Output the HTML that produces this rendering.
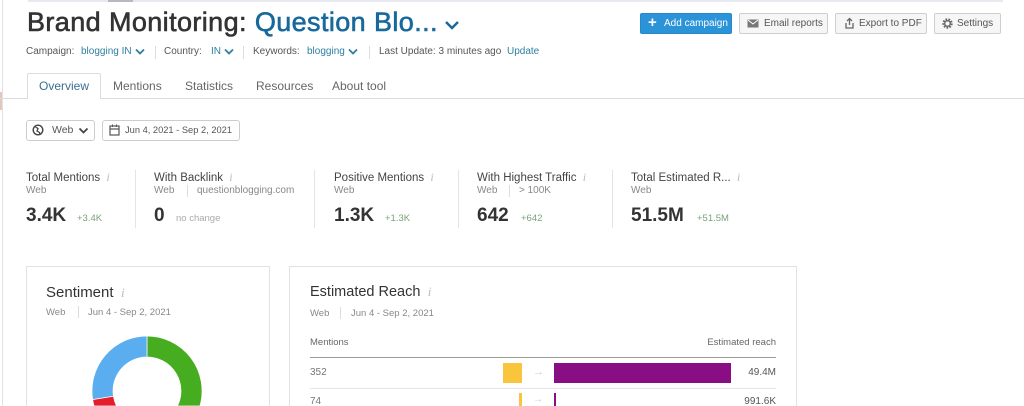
<!DOCTYPE html>
<html><head><meta charset="utf-8">
<style>
*{margin:0;padding:0;box-sizing:border-box}
html,body{width:1024px;height:406px;overflow:hidden;background:#fff;font-family:"Liberation Sans",Arial,sans-serif;color:#333;position:relative}
.a{position:absolute;white-space:nowrap}
.lbl{font-size:10px;color:#555}
.val{font-size:10px;color:#2e7fa0}
.sep{position:absolute;width:1px;background:#ddd}
.btn{position:absolute;top:13px;height:21px;border:1px solid #cfcfcf;border-radius:2px;background:#f6f6f6;font-size:10px;color:#555;line-height:19px}
.tab{position:absolute;top:79px;font-size:12px;color:#666}
.mt{font-size:11.5px;color:#444;position:absolute;top:170px}
.ms{font-size:10px;color:#888;position:absolute;top:185px}
.mv{font-size:19px;font-weight:bold;color:#333;position:absolute;top:205px}
.md{font-size:9.5px;color:#7aa27a;position:absolute;top:213px}
.info{font-family:"Liberation Serif",serif;font-style:italic;color:#bbb;font-size:12px}
.card{position:absolute;top:266px;height:140px;border:1px solid #e2e2e2;border-bottom:none;background:#fff}
</style></head><body>
<!-- top line and left border -->
<div class="a" style="left:28px;top:0;width:975px;height:2px;background:#e8e8f0"></div>
<div class="a" style="left:108px;top:0;width:25px;height:2px;background:#b8b8c2"></div>
<div class="a" style="left:2px;top:0;width:1px;height:406px;background:#e2e2e2"></div>
<div class="a" style="left:0;top:92px;width:2px;height:18px;background:#e0c8bc"></div>

<!-- title -->
<div class="a" style="left:27px;top:7px;font-size:27px;letter-spacing:0.4px;color:#333;-webkit-text-stroke:0.6px #333">Brand Monitoring: <span style="color:#17699c;-webkit-text-stroke:0.6px #17699c">Question Blo...</span></div>
<svg class="a" style="left:444px;top:19px" width="16" height="12"><polyline points="2,3 8,9 14,3" fill="none" stroke="#17699c" stroke-width="2.4"/></svg>

<!-- sub header -->
<div class="a lbl" style="left:26px;top:46px">Campaign:</div>
<div class="a val" style="left:81px;top:46px">blogging IN</div>
<svg class="a" style="left:135px;top:48px" width="10" height="8"><polyline points="1,1.5 5,5.5 9,1.5" fill="none" stroke="#2e7fa0" stroke-width="1.8"/></svg>
<div class="sep" style="left:155px;top:46px;height:13px"></div>
<div class="a lbl" style="left:164px;top:46px">Country:</div>
<div class="a val" style="left:211px;top:46px">IN</div>
<svg class="a" style="left:224px;top:48px" width="10" height="8"><polyline points="1,1.5 5,5.5 9,1.5" fill="none" stroke="#2e7fa0" stroke-width="1.8"/></svg>
<div class="sep" style="left:243px;top:46px;height:13px"></div>
<div class="a lbl" style="left:253px;top:46px">Keywords:</div>
<div class="a val" style="left:307px;top:46px">blogging</div>
<svg class="a" style="left:348px;top:48px" width="10" height="8"><polyline points="1,1.5 5,5.5 9,1.5" fill="none" stroke="#2e7fa0" stroke-width="1.8"/></svg>
<div class="sep" style="left:369px;top:46px;height:13px"></div>
<div class="a lbl" style="left:379px;top:46px">Last Update: 3 minutes ago</div>
<div class="a val" style="left:507px;top:46px">Update</div>

<!-- buttons -->
<div class="btn" style="left:640px;width:92px;background:#2b93d8;border-color:#2688cc;color:#fff"><span style="position:absolute;left:7px;top:-1px;font-size:15px;font-weight:bold">+</span><span style="position:absolute;left:23px">Add campaign</span></div>
<div class="btn" style="left:739px;width:89px"><svg style="position:absolute;left:7px;top:5px" width="12" height="9"><rect x="0.5" y="0.5" width="11" height="8" fill="#777"/><polyline points="1,1 6,5 11,1" fill="none" stroke="#fff" stroke-width="1"/></svg><span style="position:absolute;left:24px">Email reports</span></div>
<div class="btn" style="left:835px;width:92px"><svg style="position:absolute;left:8px;top:3px" width="11" height="13"><polyline points="2,6 2,11 9,11 9,6" fill="none" stroke="#666" stroke-width="1.3"/><line x1="5.5" y1="1.5" x2="5.5" y2="8" stroke="#666" stroke-width="1.3"/><polyline points="3,4 5.5,1.5 8,4" fill="none" stroke="#666" stroke-width="1.3"/></svg><span style="position:absolute;left:23px">Export to PDF</span></div>
<div class="btn" style="left:934px;width:67px"><svg style="position:absolute;left:7px;top:4px" width="11" height="11"><circle cx="5.5" cy="5.5" r="4" fill="none" stroke="#666" stroke-width="2.4" stroke-dasharray="1.6 1.2"/><circle cx="5.5" cy="5.5" r="2.8" fill="none" stroke="#666" stroke-width="1.3"/></svg><span style="position:absolute;left:22px">Settings</span></div>

<!-- tabs -->
<div class="a" style="left:0;top:98px;width:1024px;height:1px;background:#dcdcdc"></div>
<div class="a" style="left:27px;top:73px;width:74px;height:26px;border:1px solid #dcdcdc;border-bottom:none;border-radius:2px 2px 0 0;background:#fff"></div>
<div class="tab" style="left:39px;color:#3a6f92">Overview</div>
<div class="tab" style="left:113px">Mentions</div>
<div class="tab" style="left:185px">Statistics</div>
<div class="tab" style="left:256px">Resources</div>
<div class="tab" style="left:332px">About tool</div>

<!-- filters -->
<div class="a" style="left:26px;top:120px;width:69px;height:21px;border:1px solid #cdcdcd;border-radius:3px"></div>
<svg class="a" style="left:32px;top:124px" width="12" height="12"><circle cx="6" cy="6" r="4.8" fill="none" stroke="#444" stroke-width="1.4"/><path d="M3.5,3 L6,4.5 L5,7 L7.5,8.5 L8,10.5" fill="none" stroke="#444" stroke-width="1.3"/></svg>
<div class="a" style="left:52px;top:124px;font-size:10.5px;color:#555">Web</div>
<svg class="a" style="left:78px;top:127px" width="11" height="8"><polyline points="1.5,1.5 5.5,5.5 9.5,1.5" fill="none" stroke="#444" stroke-width="1.8"/></svg>
<div class="a" style="left:102px;top:120px;width:138px;height:21px;border:1px solid #cdcdcd;border-radius:3px"></div>
<svg class="a" style="left:109px;top:124px" width="11" height="12"><rect x="1" y="2" width="9" height="9" fill="none" stroke="#555" stroke-width="1.2"/><line x1="1" y1="5" x2="10" y2="5" stroke="#555" stroke-width="1.2"/><line x1="3.5" y1="0.5" x2="3.5" y2="3" stroke="#555"/><line x1="7.5" y1="0.5" x2="7.5" y2="3" stroke="#555"/></svg>
<div class="a" style="left:125px;top:125px;font-size:9.3px;color:#555">Jun 4, 2021 - Sep 2, 2021</div>

<!-- metrics -->
<div class="mt" style="left:26px">Total Mentions <span class="info">&nbsp;i</span></div>
<div class="ms" style="left:26px">Web</div>
<div class="mv" style="left:26px">3.4K</div>
<div class="md" style="left:77px">+3.4K</div>
<div class="sep" style="left:135px;top:170px;height:58px;background:#e4e4e4"></div>

<div class="mt" style="left:154px">With Backlink <span class="info">&nbsp;i</span></div>
<div class="ms" style="left:154px">Web</div>
<div class="sep" style="left:187px;top:185px;height:12px"></div>
<div class="ms" style="left:197px">questionblogging.com</div>
<div class="mv" style="left:154px">0</div>
<div class="md" style="left:176px;color:#aaa">no change</div>
<div class="sep" style="left:314px;top:170px;height:58px;background:#e4e4e4"></div>

<div class="mt" style="left:334px">Positive Mentions <span class="info">&nbsp;i</span></div>
<div class="ms" style="left:334px">Web</div>
<div class="mv" style="left:334px">1.3K</div>
<div class="md" style="left:385px">+1.3K</div>
<div class="sep" style="left:458px;top:170px;height:58px;background:#e4e4e4"></div>

<div class="mt" style="left:477px">With Highest Traffic <span class="info">&nbsp;i</span></div>
<div class="ms" style="left:477px">Web</div>
<div class="sep" style="left:509px;top:185px;height:12px"></div>
<div class="ms" style="left:519px">&gt; 100K</div>
<div class="mv" style="left:477px">642</div>
<div class="md" style="left:521px">+642</div>
<div class="sep" style="left:612px;top:170px;height:58px;background:#e4e4e4"></div>

<div class="mt" style="left:631px">Total Estimated R... <span class="info">&nbsp;i</span></div>
<div class="ms" style="left:631px">Web</div>
<div class="mv" style="left:631px">51.5M</div>
<div class="md" style="left:697px">+51.5M</div>

<!-- Sentiment card -->
<div class="card" style="left:26px;width:244px"></div>
<div class="a" style="left:46px;top:284px;font-size:15px;color:#333">Sentiment <span class="info" style="font-size:13px">&nbsp;i</span></div>
<div class="a" style="left:46px;top:307px;font-size:9.5px;color:#888">Web</div>
<div class="sep" style="left:78px;top:306px;height:12px"></div>
<div class="a" style="left:88px;top:307px;font-size:9.5px;color:#888">Jun 4 - Sep 2, 2021</div>
<svg class="a" style="left:80px;top:330px" width="140" height="76" viewBox="80 330 140 76">
  <path d="M147,336 A55,55 0 0 1 199.92,406 L177.51,406 A34,34 0 0 0 147,357 Z" fill="#45ad1f" stroke="#fff" stroke-width="0.7"/>
  <path d="M92.68,399.60 A55,55 0 0 1 147,336 L147,357 A34,34 0 0 0 113.42,396.32 Z" fill="#5aaef0" stroke="#fff" stroke-width="0.7"/>
  <path d="M94.08,406 A55,55 0 0 1 92.68,399.60 L113.42,396.32 A34,34 0 0 0 116.49,406 Z" fill="#e41e2b" stroke="#fff" stroke-width="0.7"/>
</svg>

<!-- Estimated Reach card -->
<div class="card" style="left:289px;width:508px"></div>
<div class="a" style="left:310px;top:284px;font-size:14.5px;color:#333">Estimated Reach <span class="info" style="font-size:13px">&nbsp;i</span></div>
<div class="a" style="left:310px;top:308px;font-size:9.5px;color:#888">Web</div>
<div class="sep" style="left:340px;top:307px;height:12px"></div>
<div class="a" style="left:351px;top:308px;font-size:9.5px;color:#888">Jun 4 - Sep 2, 2021</div>
<div class="a" style="left:310px;top:337px;font-size:9.5px;color:#666">Mentions</div>
<div class="a" style="right:248px;top:337px;font-size:9.5px;color:#666">Estimated reach</div>
<div class="a" style="left:310px;top:357px;width:466px;height:1px;background:#9a9a9a"></div>
<div class="a" style="left:310px;top:367px;font-size:10px;color:#777">352</div>
<div class="a" style="left:503px;top:363px;width:19px;height:20px;background:#f8c53c"></div>
<div class="a" style="left:533px;top:366px;font-size:11px;color:#ccc">&#8594;</div>
<div class="a" style="left:554px;top:363px;width:177px;height:20px;background:#890d83"></div>
<div class="a" style="right:248px;top:367px;font-size:10px;color:#555">49.4M</div>
<div class="a" style="left:310px;top:388px;width:466px;height:1px;background:#e6e6e6"></div>
<div class="a" style="left:310px;top:397px;font-size:10px;line-height:9px;color:#777">74</div>
<div class="a" style="left:519px;top:393px;width:3px;height:13px;background:#f8c53c"></div>
<div class="a" style="left:533px;top:395px;font-size:10px;line-height:10px;color:#ccc">&#8594;</div>
<div class="a" style="left:554px;top:393px;width:2px;height:13px;background:#890d83"></div>
<div class="a" style="right:248px;top:397px;font-size:10px;line-height:9px;color:#555">991.6K</div>
</body></html>
